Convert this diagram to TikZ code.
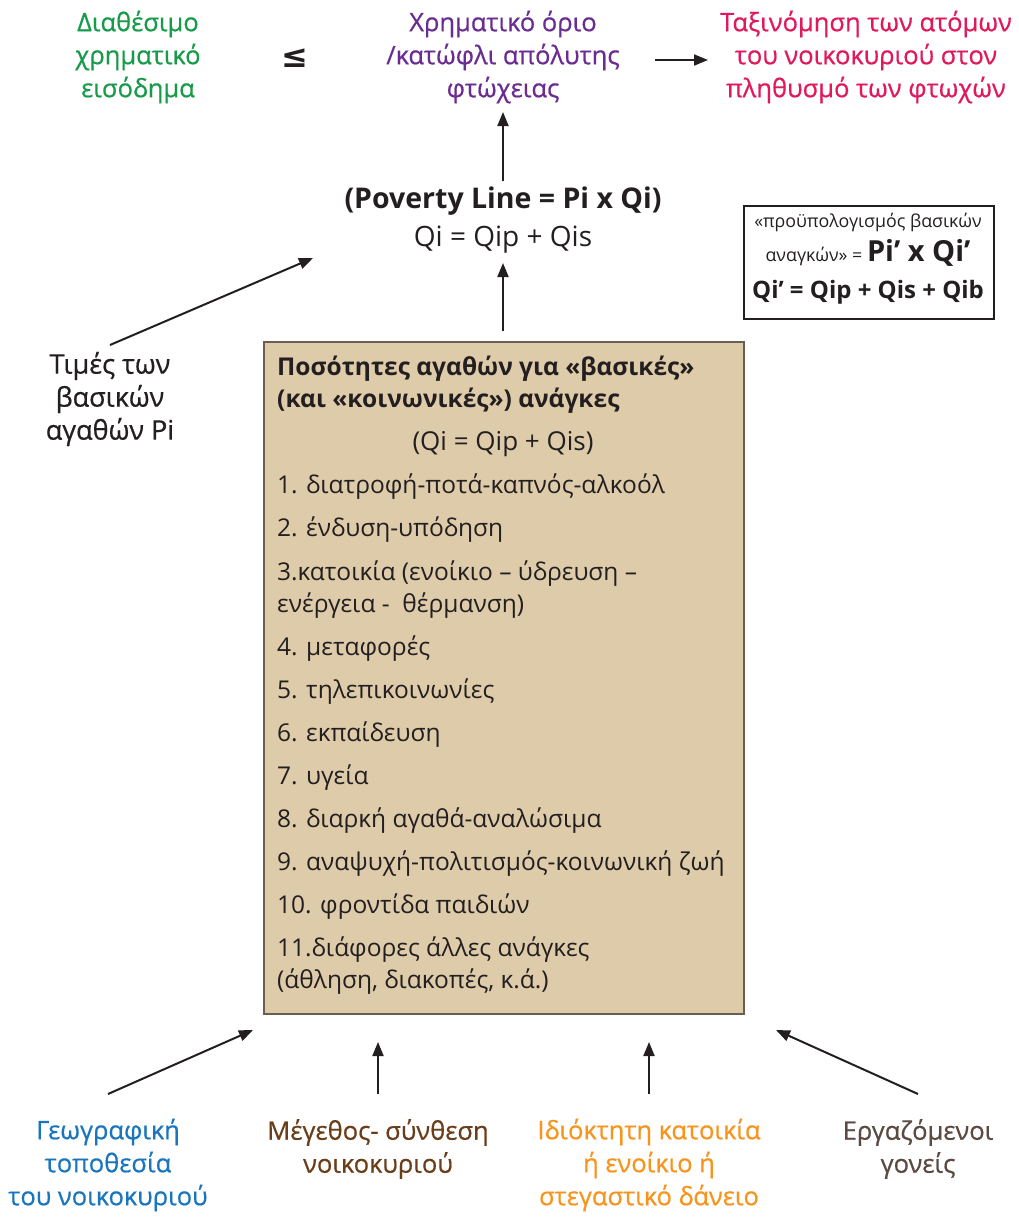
\documentclass[tikz,border=0pt]{standalone}
\usepackage{fontspec}
\setmainfont{Open Sans}
\newfontfamily\medfont[FakeBold=0.6]{Open Sans}
\newfontfamily\symfont{DejaVu Sans}
\usetikzlibrary{arrows.meta}
\definecolor{cgreen}{HTML}{179A4A}
\definecolor{cpurple}{HTML}{6A2C91}
\definecolor{cmagenta}{HTML}{E0195A}
\definecolor{cblue}{HTML}{1B75BC}
\definecolor{cbrown}{HTML}{6B3E1A}
\definecolor{corange}{HTML}{F7941D}
\definecolor{cgray}{HTML}{5A4A42}
\definecolor{ctext}{HTML}{231F20}
\definecolor{boxfill}{HTML}{DECBA9}
\definecolor{boxline}{HTML}{6B5D52}
\begin{document}
\begin{tikzpicture}[x=1pt,y=-1pt,
  lbl/.style={align=center, font=\medfont\fontsize{25.5}{33}\selectfont, inner sep=0pt},
  item/.style={align=left, font=\fontsize{24.5}{32}\selectfont, inner sep=0pt, anchor=base west, text=ctext},
  arr/.style={-{Triangle[length=14pt,width=11pt]}, line width=2pt, draw=ctext}]
\useasboundingbox (0,0) rectangle (1019,1219);
% top row
\node[lbl, text=cgreen] (income) at (138,57) {Διαθέσιμο\\χρηματικό\\εισόδημα};
\node[font=\symfont\bfseries\fontsize{32}{32}\selectfont, text=ctext, inner sep=0pt] (leq) at (295,58) {≤};
\node[lbl, text=cpurple] (threshold) at (503,57) {Χρηματικό όριο\\/κατώφλι απόλυτης\\φτώχειας};
\node[lbl, text=cmagenta] (classif) at (866,57) {Ταξινόμηση των ατόμων\\του νοικοκυριού στον\\πληθυσμό των φτωχών};
\coordinate (a1s) at (655,60);
\coordinate (a1e) at (708,60);
\draw[arr] (a1s) -- (a1e);
% poverty line
\node[font=\bfseries\fontsize{28.5}{30}\selectfont, text=ctext, inner sep=0pt] (pl) at (503,201) {(Poverty Line = Pi x Qi)};
\node[font=\fontsize{28}{30}\selectfont, text=ctext, inner sep=0pt] (qi) at (503,240) {Qi = Qip + Qis};
\coordinate (a2s) at (503,181);
\coordinate (a2e) at (503,112);
\draw[arr] (a2s) -- (a2e);
% budget box
\node[draw=ctext, line width=1.6pt, anchor=north west, minimum width=250pt, minimum height=113pt, inner sep=0pt] (budget) at (743,205) {};
\node[font=\fontsize{17.8}{20}\selectfont, text=ctext, inner sep=0pt] (b1) at (868,222) {«προϋπολογισμός βασικών};
\node[text=ctext, inner sep=0pt, anchor=base] (b2) at (868,261) {\fontsize{17.8}{20}\selectfont αναγκών» = \fontsize{29}{30}\selectfont\bfseries Pi’ x Qi’};
\node[font=\fontsize{24}{26}\selectfont\bfseries, text=ctext, inner sep=0pt] (b3) at (868,292) {Qi’ = Qip + Qis + Qib};
% prices
\node[lbl, text=ctext, font=\medfont\fontsize{27}{33}\selectfont] (prices) at (110,399) {Τιμές των\\βασικών\\αγαθών Pi};
\coordinate (a3s) at (110,345);
\coordinate (a3e) at (313,258);
\draw[arr] (a3s) -- (a3e);
% main box
\node[draw=boxline, fill=boxfill, line width=2pt, anchor=north west, minimum width=480pt, minimum height=672pt, inner sep=0pt] (needs) at (263,341) {};
\coordinate (a4s) at (503,331);
\coordinate (a4e) at (503,263);
\draw[arr] (a4s) -- (a4e);
\node[item, font=\bfseries\fontsize{24.5}{32}\selectfont] (t0) at (277,407) {Ποσότητες αγαθών για «βασικές»\\(και «κοινωνικές») ανάγκες};
\node[item, anchor=base, font=\fontsize{26}{32}\selectfont] (tq) at (503,450) {(Qi = Qip + Qis)};
\node[item] (t1) at (277,493) {1. διατροφή-ποτά-καπνός-αλκοόλ};
\node[item] (t2) at (277,536) {2. ένδυση-υπόδηση};
\node[item] (t3) at (277,612) {3.κατοικία (ενοίκιο – ύδρευση –\\ενέργεια -\ \ θέρμανση)};
\node[item] (t4) at (277,655) {4. μεταφορές};
\node[item] (t5) at (277,698) {5. τηλεπικοινωνίες};
\node[item] (t6) at (277,741) {6. εκπαίδευση};
\node[item] (t7) at (277,784) {7. υγεία};
\node[item] (t8) at (277,827) {8. διαρκή αγαθά-αναλώσιμα};
\node[item] (t9) at (277,870) {9. αναψυχή-πολιτισμός-κοινωνική ζωή};
\node[item] (t10) at (277,913) {10. φροντίδα παιδιών};
\node[item] (t11) at (277,988) {11.διάφορες άλλες ανάγκες\\(άθληση, διακοπές, κ.ά.)};
% bottom
\node[lbl, text=cblue] (geo) at (108,1165) {Γεωγραφική\\τοποθεσία\\του νοικοκυριού};
\node[lbl, text=cbrown] (size) at (378,1149) {Μέγεθος- σύνθεση\\νοικοκυριού};
\node[lbl, text=corange] (own) at (649,1165) {Ιδιόκτητη κατοικία\\ή ενοίκιο ή\\στεγαστικό δάνειο};
\node[lbl, text=cgray] (work) at (918,1149) {Εργαζόμενοι\\γονείς};
\coordinate (b1s) at (108,1094);
\coordinate (b1e) at (253,1030);
\coordinate (b2s) at (378,1094);
\coordinate (b2e) at (378,1042);
\coordinate (b3s) at (649,1094);
\coordinate (b3e) at (649,1042);
\coordinate (b4s) at (918,1094);
\coordinate (b4e) at (776,1030);
\draw[arr] (b1s) -- (b1e);
\draw[arr] (b2s) -- (b2e);
\draw[arr] (b3s) -- (b3e);
\draw[arr] (b4s) -- (b4e);
\end{tikzpicture}
\end{document}
